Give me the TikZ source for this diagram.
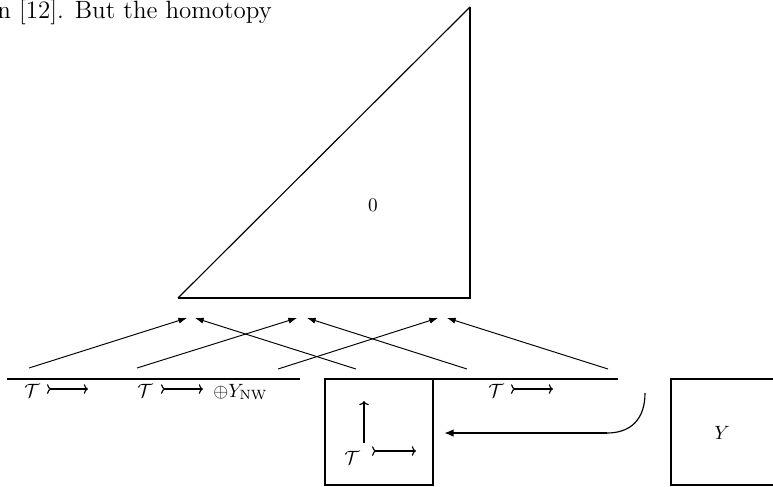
\documentclass[tikz,border=0pt]{standalone}
\usepackage{amsmath,amssymb}
\usetikzlibrary{arrows.meta}

\begin{document}
\begin{tikzpicture}[x=0.52pt,y=-0.52pt,line join=miter,
  thinarrow/.style={line width=0.5pt,-{Latex[length=4.5pt,width=3.2pt]}},
  thickbar/.style={line width=1.5pt},
  boxline/.style={line width=0.7pt},
  headtip/.style={-{Computer Modern Rightarrow[length=2.2pt,width=5pt,line width=0.6pt]}},
  tailarrow/.style={line width=0.7pt,
    {Computer Modern Rightarrow[reversed,length=2.2pt,width=5pt,line width=0.6pt]}-{Computer Modern Rightarrow[length=2.2pt,width=5pt,line width=0.6pt]}},
  lbl/.style={inner sep=0pt,anchor=base west}]
\path[use as bounding box] (0,0) rectangle (773,486);
\clip (0,0) rectangle (773,486);
\node[lbl,font=\fontsize{13}{15}\selectfont] (pagetext) at (-3,18) {n [12]. But the homotopy};
% triangle
\coordinate (apex) at (470,7);
\coordinate (baseL) at (178,298);
\coordinate (baseR) at (470,298);
\draw[line width=0.6pt] (baseL) -- (apex);
\draw[thickbar] (baseL) -- (baseR) -- (apex);
\node (zero) at (373,205) {$0$};
% arrows into the triangle
\coordinate (s1) at (29,368);  \coordinate (t1) at (187,318);
\coordinate (s2) at (356,369); \coordinate (t2) at (195,318);
\coordinate (s3) at (137,368); \coordinate (t3) at (297,318);
\coordinate (s4) at (467,369); \coordinate (t4) at (307,318);
\coordinate (s5) at (278,369); \coordinate (t5) at (438,318);
\coordinate (s6) at (608,369); \coordinate (t6) at (447,318);
\draw[thinarrow] (s1) -- (t1);
\draw[thinarrow] (s2) -- (t2);
\draw[thinarrow] (s3) -- (t3);
\draw[thinarrow] (s4) -- (t4);
\draw[thinarrow] (s5) -- (t5);
\draw[thinarrow] (s6) -- (t6);
% bars
\draw[thickbar] (7,379) -- (300,379);
\draw[thickbar] (433,379) -- (618,379);
\node[lbl] (T1) at (24,397) {$\mathcal{T}$};
\draw[tailarrow] (47,389) -- (88,389);
\node[lbl] (T2) at (137,397) {$\mathcal{T}$};
\draw[tailarrow] (161,389) -- (203,389);
\node[lbl] (sumY) at (213,397) {$\oplus Y_{\mathrm{NW}}$};
\node[lbl] (T3) at (488,397) {$\mathcal{T}$};
\draw[tailarrow] (511,389) -- (553,389);
% middle box
\draw[boxline] (325,379) rectangle (433,485);
\node[lbl] (T4) at (344,464) {$\mathcal{T}$};
\draw[line width=1.5pt,headtip] (364,443) -- (364,401);
\draw[tailarrow,line width=1pt] (372,451) -- (416,451);
% curved arrow to the middle box
\coordinate (cstart) at (645,393);
\coordinate (cbend) at (607,433);
\coordinate (ctip) at (444,433);
\draw[line width=0.6pt] (cstart) .. controls (645,420) and (630,433) .. (cbend);
\draw[line width=1.5pt,-{Latex[length=5pt,width=4pt]}] (cbend) -- (ctip);
% right box
\draw[boxline] (671,379) rectangle (800,485);
\node (Ylbl) at (722,433) {$Y$};
\end{tikzpicture}
\end{document}
